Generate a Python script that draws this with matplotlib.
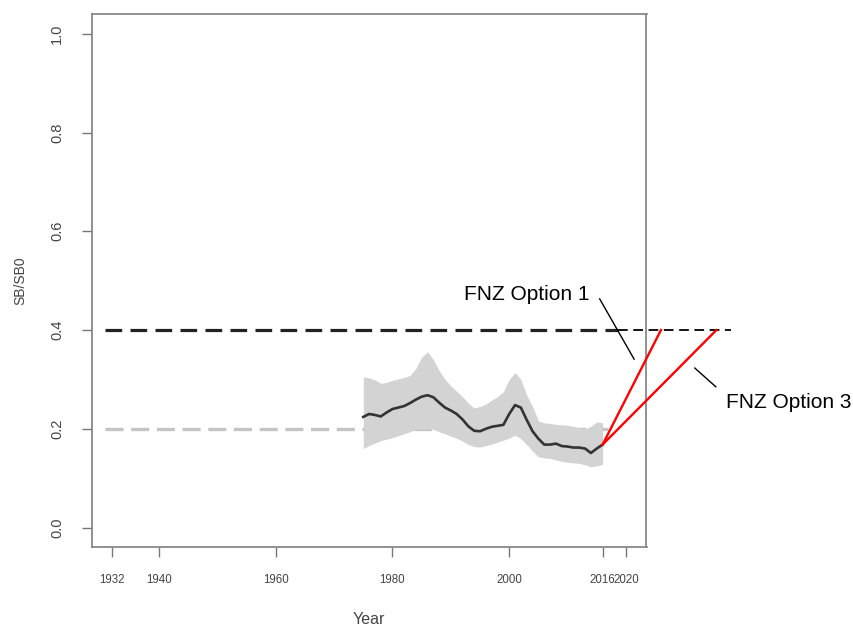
import matplotlib
matplotlib.use('Agg')
import matplotlib.pyplot as plt
import numpy as np

plt.rcParams['font.family'] = ['Liberation Sans', 'DejaVu Sans']
plt.rcParams['lines.scale_dashes'] = False

# stock status SB/SB0, 1975-2016
years = np.arange(1975, 2017)
median = [0.224, 0.230, 0.228, 0.225, 0.233, 0.240, 0.243, 0.246, 0.252, 0.259,
          0.265, 0.268, 0.264, 0.253, 0.243, 0.237, 0.230, 0.219, 0.205, 0.196,
          0.195, 0.200, 0.204, 0.206, 0.208, 0.230, 0.248, 0.243, 0.218, 0.195,
          0.180, 0.168, 0.168, 0.170, 0.165, 0.164, 0.162, 0.162, 0.160, 0.151,
          0.160, 0.168]
upper = [0.305, 0.303, 0.299, 0.292, 0.294, 0.298, 0.301, 0.304, 0.308, 0.322,
         0.345, 0.356, 0.340, 0.318, 0.300, 0.287, 0.276, 0.265, 0.252, 0.242,
         0.245, 0.250, 0.258, 0.265, 0.275, 0.300, 0.314, 0.300, 0.268, 0.245,
         0.216, 0.212, 0.211, 0.209, 0.208, 0.207, 0.205, 0.202, 0.200, 0.205,
         0.214, 0.212]
lower = [0.160, 0.166, 0.171, 0.176, 0.179, 0.182, 0.186, 0.190, 0.194, 0.199,
         0.200, 0.200, 0.199, 0.194, 0.190, 0.185, 0.181, 0.175, 0.168, 0.164,
         0.163, 0.166, 0.169, 0.173, 0.177, 0.181, 0.187, 0.180, 0.168, 0.155,
         0.143, 0.141, 0.140, 0.137, 0.134, 0.132, 0.131, 0.130, 0.127, 0.123,
         0.125, 0.128]

target = 0.4
limit = 0.2
xticks = [1932, 1940, 1960, 1980, 2000, 2016, 2020]
yticks = [0.0, 0.2, 0.4, 0.6, 0.8, 1.0]

# rebuild paths (FNZ options)
start = (2016, 0.168)
opt1_end = (2026, 0.4)
opt3_end = (2035.5, 0.4)

fig = plt.figure(figsize=(8.54, 6.28), dpi=100)
ax = fig.add_axes([91.7/854, 1-547.3/628, (646.5-91.7)/854, (547.3-14)/628])

ax.fill_between(years, lower, upper, color='#d3d3d3', lw=0, zorder=2)
ax.plot([1930.8, 2017], [limit, limit], color='#c4c4c4', lw=2.4,
        dashes=(13, 5.5), zorder=1)
ax.plot(years, median, color='#333333', lw=1.9, zorder=3)
ax.plot([1930.8, 2018.6], [target, target], color='#222222', lw=2.3,
        dashes=(12, 6), zorder=3)

# annotation layer, drawn past the axes
ax.plot([2018.6, 2038], [target, target], color='black', lw=1.3,
        dashes=(7, 4), clip_on=False, zorder=4)
ax.plot([start[0], opt1_end[0]], [start[1], opt1_end[1]], color='red',
        lw=1.7, clip_on=False, zorder=5)
ax.plot([start[0], opt3_end[0]], [start[1], opt3_end[1]], color='red',
        lw=1.7, clip_on=False, zorder=5)
ax.plot([2015.5, 2021.4], [0.463, 0.341], color='black', lw=1,
        clip_on=False, zorder=4)
ax.plot([2031.8, 2035.4], [0.323, 0.285], color='black', lw=1,
        clip_on=False, zorder=4)
ax.text(1992.2, 0.471, 'FNZ Option 1', fontsize=15, va='center', ha='left',
        clip_on=False)
ax.text(2037.2, 0.254, 'FNZ Option 3', fontsize=15, va='center', ha='left',
        clip_on=False)

ax.set_xlim(1928.48, 2023.52)
ax.set_ylim(-0.04, 1.04)
ax.set_xticks(xticks)
ax.set_xticklabels([str(y) for y in xticks])
ax.set_yticks(yticks)
ax.set_yticklabels(['%.1f' % v for v in yticks])
ax.tick_params(direction='out', length=7, width=1, color='#777777',
               labelsize=8.3, labelcolor='#444444')
ax.tick_params(axis='x', pad=12)
ax.tick_params(axis='y', pad=13, labelrotation=90, labelsize=10.5)
for lab in ax.get_yticklabels():
    lab.set_va('center')
for s in ax.spines.values():
    s.set_color('#888888')
    s.set_linewidth(1.3)

fig.text(20/854, 1-280.7/628, 'SB/SB0', rotation=90, fontsize=10,
         color='#444444', ha='center', va='center')
fig.text(369/854, 1-619/628, 'Year', fontsize=11.5, color='#444444',
         ha='center', va='center')

fig.savefig('out.png', dpi=100)
